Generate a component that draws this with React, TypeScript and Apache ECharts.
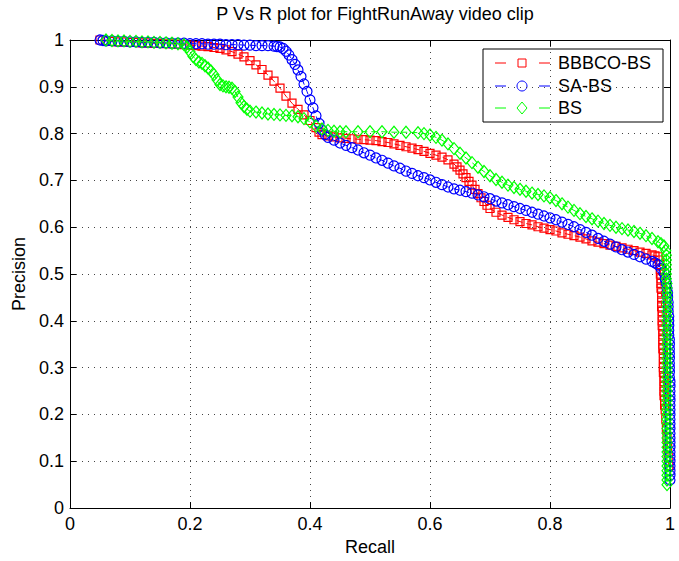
import React, { useEffect, useRef } from "react";
import * as echarts from "echarts";

const titleText = "P Vs R plot for FightRunAway video clip";
const xName = "Recall";
const yName = "Precision";
const seriesNames = ["BBBCO-BS", "SA-BS", "BS"];
const seriesColors = ["#ff0000", "#0000ff", "#00ff00"];

const bbbcoBs: number[][] = [
  [0.05, 1.0], [0.06, 0.998], [0.07, 0.997], [0.08, 0.996], [0.09, 0.996], [0.1, 0.995],
  [0.11, 0.995], [0.12, 0.994], [0.13, 0.994], [0.14, 0.993], [0.15, 0.993], [0.16, 0.992],
  [0.17, 0.992], [0.18, 0.991], [0.19, 0.99], [0.2, 0.989], [0.21, 0.988], [0.22, 0.987],
  [0.23, 0.986], [0.24, 0.984], [0.25, 0.982], [0.26, 0.979], [0.27, 0.975], [0.28, 0.97],
  [0.29, 0.964], [0.3, 0.956], [0.31, 0.947], [0.32, 0.937], [0.33, 0.925], [0.34, 0.912],
  [0.35, 0.897], [0.36, 0.88], [0.37, 0.865], [0.38, 0.852], [0.39, 0.84], [0.4, 0.828],
  [0.41, 0.813], [0.415, 0.803], [0.42, 0.798], [0.43, 0.795], [0.44, 0.793], [0.45, 0.791],
  [0.46, 0.79], [0.47, 0.789], [0.48, 0.788], [0.49, 0.787], [0.5, 0.786], [0.51, 0.785],
  [0.52, 0.783], [0.53, 0.781], [0.54, 0.778], [0.55, 0.775], [0.56, 0.772], [0.57, 0.769],
  [0.58, 0.766], [0.59, 0.762], [0.6, 0.758], [0.61, 0.754], [0.62, 0.75], [0.63, 0.744],
  [0.64, 0.735], [0.645, 0.729], [0.65, 0.722], [0.655, 0.714], [0.66, 0.706], [0.665, 0.698],
  [0.67, 0.69], [0.675, 0.681], [0.68, 0.672], [0.685, 0.663], [0.69, 0.655], [0.695, 0.647],
  [0.7, 0.64], [0.71, 0.632], [0.72, 0.626], [0.73, 0.621], [0.74, 0.616], [0.75, 0.612],
  [0.76, 0.608], [0.77, 0.605], [0.78, 0.601], [0.79, 0.598], [0.8, 0.595], [0.81, 0.592],
  [0.82, 0.588], [0.83, 0.585], [0.84, 0.582], [0.85, 0.579], [0.86, 0.575], [0.87, 0.571],
  [0.88, 0.568], [0.89, 0.565], [0.9, 0.562], [0.91, 0.559], [0.92, 0.556], [0.93, 0.553],
  [0.94, 0.55], [0.95, 0.547], [0.96, 0.544], [0.97, 0.541], [0.975, 0.539], [0.98, 0.537],
  [0.982, 0.53], [0.983, 0.52], [0.984, 0.51], [0.984, 0.5], [0.985, 0.49], [0.985, 0.48],
  [0.985, 0.47], [0.986, 0.46], [0.986, 0.45], [0.986, 0.44], [0.986, 0.43], [0.987, 0.42],
  [0.987, 0.41], [0.987, 0.4], [0.987, 0.39], [0.988, 0.38], [0.988, 0.37], [0.988, 0.36],
  [0.988, 0.35], [0.988, 0.34], [0.989, 0.33], [0.989, 0.32], [0.989, 0.31], [0.989, 0.3],
  [0.989, 0.29], [0.99, 0.28], [0.99, 0.27], [0.99, 0.26], [0.99, 0.25], [0.99, 0.24],
  [0.991, 0.23], [0.991, 0.22], [0.992, 0.21], [0.993, 0.19], [0.994, 0.17], [0.995, 0.15],
  [0.996, 0.13], [0.997, 0.11], [0.998, 0.09],
];

const saBs: number[][] = [
  [0.05, 1.0], [0.055, 0.999], [0.06, 0.998], [0.07, 0.998], [0.08, 0.997], [0.09, 0.997],
  [0.1, 0.996], [0.11, 0.996], [0.12, 0.995], [0.13, 0.995], [0.14, 0.995], [0.15, 0.994],
  [0.16, 0.994], [0.17, 0.993], [0.18, 0.993], [0.19, 0.993], [0.2, 0.992], [0.21, 0.992],
  [0.22, 0.992], [0.23, 0.991], [0.24, 0.991], [0.25, 0.991], [0.26, 0.99], [0.27, 0.99],
  [0.28, 0.99], [0.29, 0.989], [0.3, 0.989], [0.31, 0.988], [0.32, 0.988], [0.33, 0.988],
  [0.34, 0.987], [0.345, 0.986], [0.35, 0.985], [0.355, 0.982], [0.36, 0.976], [0.365, 0.968],
  [0.37, 0.958], [0.375, 0.948], [0.38, 0.936], [0.385, 0.922], [0.39, 0.906], [0.395, 0.89],
  [0.4, 0.872], [0.405, 0.855], [0.41, 0.838], [0.415, 0.822], [0.42, 0.808], [0.425, 0.798],
  [0.43, 0.792], [0.44, 0.786], [0.45, 0.78], [0.46, 0.775], [0.47, 0.77], [0.48, 0.765],
  [0.49, 0.759], [0.5, 0.754], [0.51, 0.748], [0.52, 0.743], [0.53, 0.737], [0.54, 0.731],
  [0.55, 0.726], [0.56, 0.72], [0.57, 0.715], [0.58, 0.71], [0.59, 0.706], [0.6, 0.701],
  [0.61, 0.696], [0.62, 0.691], [0.63, 0.686], [0.64, 0.682], [0.65, 0.679], [0.66, 0.676],
  [0.67, 0.673], [0.68, 0.669], [0.69, 0.665], [0.7, 0.661], [0.71, 0.656], [0.72, 0.652],
  [0.73, 0.648], [0.74, 0.644], [0.75, 0.64], [0.76, 0.636], [0.77, 0.632], [0.78, 0.628],
  [0.79, 0.624], [0.8, 0.62], [0.81, 0.616], [0.82, 0.611], [0.83, 0.606], [0.84, 0.601],
  [0.85, 0.595], [0.86, 0.589], [0.87, 0.583], [0.88, 0.576], [0.89, 0.57], [0.9, 0.564],
  [0.91, 0.558], [0.92, 0.552], [0.93, 0.547], [0.94, 0.542], [0.95, 0.537], [0.96, 0.532],
  [0.97, 0.527], [0.975, 0.524], [0.98, 0.52], [0.985, 0.512], [0.99, 0.503], [0.992, 0.49],
  [0.994, 0.48], [0.995, 0.47], [0.996, 0.46], [0.996, 0.45], [0.997, 0.44], [0.997, 0.43],
  [0.997, 0.42], [0.998, 0.41], [0.998, 0.4], [0.998, 0.39], [0.998, 0.38], [0.998, 0.37],
  [0.999, 0.36], [0.999, 0.35], [0.999, 0.34], [0.999, 0.33], [0.999, 0.32], [0.999, 0.31],
  [0.999, 0.3], [0.999, 0.29], [0.999, 0.28], [1.0, 0.27], [1.0, 0.26], [1.0, 0.25],
  [1.0, 0.24], [1.0, 0.23], [1.0, 0.22], [1.0, 0.21], [1.0, 0.2], [1.0, 0.19],
  [1.0, 0.18], [1.0, 0.17], [1.0, 0.16], [1.0, 0.15], [1.0, 0.14], [1.0, 0.13],
  [1.0, 0.12], [1.0, 0.11], [1.0, 0.1], [1.0, 0.09], [1.0, 0.08], [1.0, 0.07], [1.0, 0.06],
];

const bs: number[][] = [
  [0.06, 1.0], [0.07, 0.999], [0.08, 0.998], [0.09, 0.998], [0.1, 0.997], [0.11, 0.997],
  [0.12, 0.996], [0.13, 0.996], [0.14, 0.995], [0.15, 0.995], [0.16, 0.994], [0.17, 0.993],
  [0.18, 0.992], [0.19, 0.99], [0.195, 0.985], [0.2, 0.975], [0.205, 0.965], [0.21, 0.958],
  [0.215, 0.953], [0.22, 0.95], [0.225, 0.945], [0.23, 0.94], [0.235, 0.934], [0.24, 0.926],
  [0.245, 0.915], [0.25, 0.905], [0.255, 0.902], [0.26, 0.9], [0.265, 0.899], [0.27, 0.897],
  [0.275, 0.89], [0.28, 0.878], [0.285, 0.866], [0.29, 0.858], [0.295, 0.852], [0.3, 0.848],
  [0.31, 0.846], [0.32, 0.844], [0.33, 0.842], [0.34, 0.841], [0.35, 0.84], [0.36, 0.839],
  [0.37, 0.838], [0.38, 0.836], [0.39, 0.832], [0.4, 0.825], [0.41, 0.816], [0.42, 0.81],
  [0.43, 0.807], [0.44, 0.805], [0.45, 0.804], [0.46, 0.804], [0.48, 0.804], [0.5, 0.804],
  [0.52, 0.804], [0.54, 0.803], [0.56, 0.803], [0.58, 0.802], [0.59, 0.8], [0.6, 0.797],
  [0.61, 0.792], [0.62, 0.786], [0.63, 0.778], [0.64, 0.768], [0.65, 0.758], [0.66, 0.748],
  [0.67, 0.738], [0.68, 0.728], [0.69, 0.719], [0.7, 0.71], [0.71, 0.702], [0.72, 0.696],
  [0.73, 0.69], [0.74, 0.685], [0.75, 0.681], [0.76, 0.677], [0.77, 0.673], [0.78, 0.67],
  [0.79, 0.667], [0.8, 0.663], [0.81, 0.657], [0.82, 0.65], [0.83, 0.643], [0.84, 0.636],
  [0.85, 0.629], [0.86, 0.623], [0.87, 0.618], [0.88, 0.613], [0.89, 0.608], [0.9, 0.604],
  [0.91, 0.6], [0.92, 0.597], [0.93, 0.594], [0.94, 0.591], [0.95, 0.587], [0.96, 0.582],
  [0.97, 0.576], [0.98, 0.569], [0.985, 0.565], [0.99, 0.56], [0.993, 0.55], [0.994, 0.54],
  [0.994, 0.53], [0.994, 0.52], [0.994, 0.51], [0.994, 0.5], [0.994, 0.49], [0.995, 0.48],
  [0.995, 0.47], [0.995, 0.46], [0.995, 0.45], [0.995, 0.44], [0.995, 0.43], [0.995, 0.42],
  [0.995, 0.41], [0.995, 0.4], [0.995, 0.39], [0.995, 0.38], [0.995, 0.37], [0.995, 0.36],
  [0.995, 0.35], [0.995, 0.34], [0.995, 0.33], [0.995, 0.32], [0.995, 0.31], [0.995, 0.3],
  [0.995, 0.29], [0.995, 0.28], [0.995, 0.27], [0.995, 0.26], [0.995, 0.25], [0.995, 0.24],
  [0.995, 0.23], [0.995, 0.22], [0.995, 0.21], [0.995, 0.2], [0.995, 0.19], [0.995, 0.18],
  [0.995, 0.17], [0.995, 0.16], [0.995, 0.15], [0.995, 0.14], [0.995, 0.13], [0.995, 0.12],
  [0.995, 0.11], [0.995, 0.1], [0.995, 0.09], [0.995, 0.08], [0.995, 0.07], [0.995, 0.06],
  [0.995, 0.05],
];

const xTickInterval = 0.2;
const yTickInterval = 0.1;

const FONT = "'Liberation Sans', Arial, Helvetica, sans-serif";

export default function App() {
  const ref = useRef<HTMLDivElement>(null);
  useEffect(() => {
    if (!ref.current) return;
    const chart = echarts.init(ref.current, null, { renderer: "svg" });

    const axisCommon = {
      type: "value" as const,
      min: 0,
      max: 1,
      axisLine: { show: true, onZero: false, lineStyle: { color: "#000", width: 1 } },
      axisTick: { show: true, inside: true, length: 6, lineStyle: { color: "#000", width: 1 } },
    };
    const labelStyle = { color: "#000", fontSize: 18, fontFamily: FONT };
    const splitDotted = { show: true, lineStyle: { color: "#444", width: 1, type: [1, 5] } };

    const symbols = ["rect", "circle", "diamond"];
    const sizes: any[] = [8, 10, [10, 12]];
    const datasets = [bbbcoBs, saBs, bs];

    const series = datasets.map((d, i) => ({
      type: "line",
      name: seriesNames[i],
      data: d,
      symbol: symbols[i],
      symbolSize: sizes[i],
      showSymbol: true,
      clip: false,
      silent: true,
      z: 2 + i,
      lineStyle: { color: seriesColors[i], width: 1, type: [6, 4] },
      itemStyle: { color: "rgba(0,0,0,0)", borderColor: seriesColors[i], borderWidth: 1.2 },
      emphasis: { disabled: true },
    }));

    const lx = 483, ly = 49, lw = 180, lh = 73;
    const rows = [63, 86, 108];
    const legendChildren: any[] = [
      { type: "rect", shape: { x: lx, y: ly, width: lw, height: lh }, style: { fill: "#fff", stroke: "#000", lineWidth: 1 } },
    ];
    rows.forEach((yy, i) => {
      const c = seriesColors[i];
      legendChildren.push({ type: "line", shape: { x1: 495, y1: yy, x2: 506, y2: yy }, style: { stroke: c, lineWidth: 1 } });
      legendChildren.push({ type: "line", shape: { x1: 539, y1: yy, x2: 550, y2: yy }, style: { stroke: c, lineWidth: 1 } });
      if (i === 0) {
        legendChildren.push({ type: "rect", shape: { x: 518, y: yy - 4, width: 8, height: 8 }, style: { fill: "none", stroke: c, lineWidth: 1 } });
      } else if (i === 1) {
        legendChildren.push({ type: "circle", shape: { cx: 522, cy: yy, r: 5 }, style: { fill: "none", stroke: c, lineWidth: 1 } });
      } else {
        legendChildren.push({ type: "polygon", shape: { points: [[522, yy - 6], [527, yy], [522, yy + 6], [517, yy]] }, style: { fill: "none", stroke: c, lineWidth: 1 } });
      }
      legendChildren.push({
        type: "text",
        style: { x: 558, y: yy, text: seriesNames[i], fill: "#000", font: `18px ${FONT}`, verticalAlign: "middle", align: "left" },
      });
    });

    chart.setOption({
      animation: false,
      backgroundColor: "#fff",
      title: {
        text: titleText,
        left: 370,
        top: 0,
        textAlign: "center",
        textStyle: { color: "#000", fontSize: 18, fontWeight: "normal", fontFamily: FONT },
      },
      grid: { left: 70, right: 9, top: 40, bottom: 48, containLabel: false },
      xAxis: [
        {
          ...axisCommon,
          position: "bottom",
          interval: xTickInterval,
          axisLabel: { ...labelStyle, margin: 7 },
          splitLine: splitDotted,
          name: xName,
          nameLocation: "middle",
          nameGap: 26,
          nameTextStyle: { ...labelStyle },
        },
        {
          ...axisCommon,
          position: "top",
          interval: xTickInterval,
          axisLabel: { show: false },
          splitLine: { show: false },
        },
      ],
      yAxis: [
        {
          ...axisCommon,
          position: "left",
          interval: yTickInterval,
          axisLabel: { ...labelStyle, margin: 6 },
          splitLine: splitDotted,
          name: yName,
          nameLocation: "middle",
          nameGap: 42,
          nameTextStyle: { ...labelStyle },
        },
        {
          ...axisCommon,
          position: "right",
          interval: yTickInterval,
          axisLabel: { show: false },
          splitLine: { show: false },
        },
      ],
      series,
      graphic: [{ type: "group", z: 100, children: legendChildren }],
    });

    return () => chart.dispose();
  }, []);

  return (
    <div
      ref={ref}
      style={{ position: "fixed", left: 0, top: 0, width: 679, height: 561, background: "#fff" }}
    />
  );
}
